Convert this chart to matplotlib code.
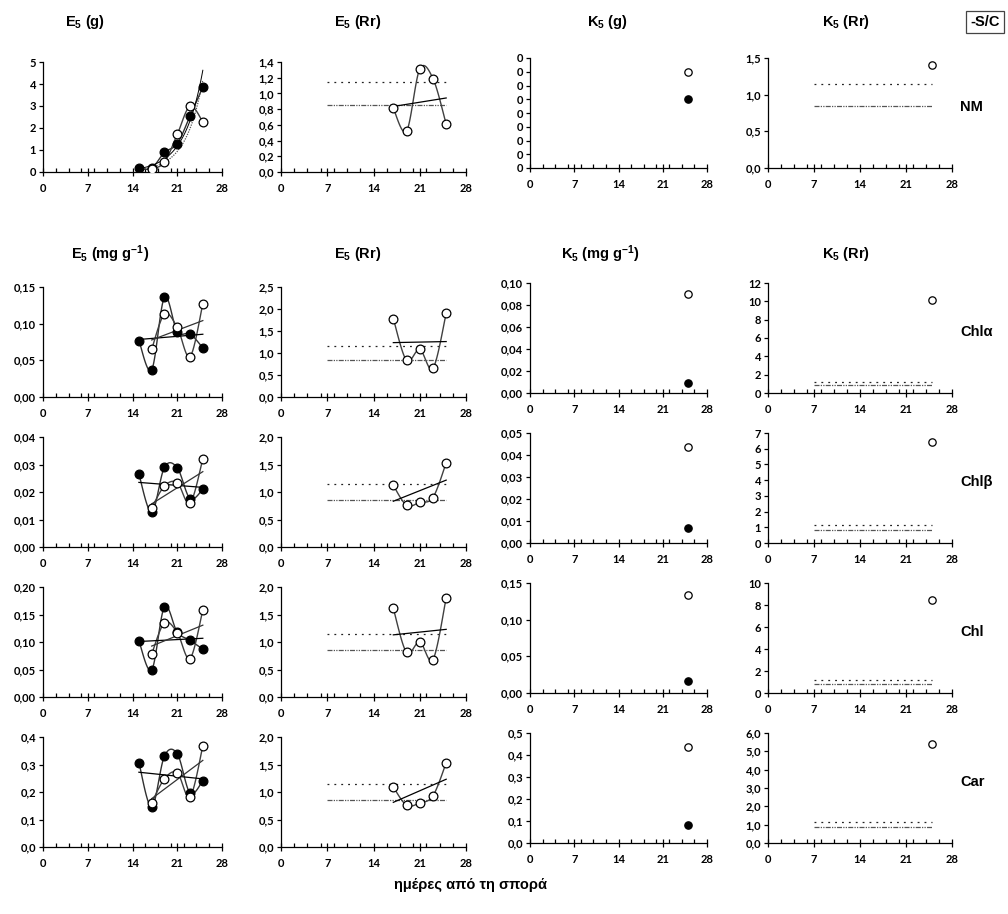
import numpy as np
import matplotlib
matplotlib.use("Agg")
import matplotlib.pyplot as plt
from matplotlib.ticker import MultipleLocator, FuncFormatter

plt.rcParams['font.family'] = ['Liberation Sans', 'DejaVu Sans']
plt.rcParams['font.weight'] = 'bold'
plt.rcParams['mathtext.fontset'] = 'custom'
plt.rcParams['mathtext.rm'] = 'Liberation Sans:bold'
plt.rcParams['mathtext.bf'] = 'Liberation Sans:bold'
plt.rcParams['mathtext.default'] = 'bf'

W, H = 1008, 914

# sampling days
days = [15, 17, 19, 21, 23, 25]
days_rr = [17, 19, 21, 23, 25]
day_k5 = 25
row_names = ["NM", "Chlα", "Chlβ", "Chl", "Car"]

# E5, filled series (days 15..25)
e5_filled_nm = [0.17, 0.18, 0.89, 1.29, 2.54, 3.86]
e5_filled_chla = [0.077, 0.037, 0.136, 0.089, 0.086, 0.067]
e5_filled_chlb = [0.0265, 0.0126, 0.029, 0.0288, 0.0176, 0.021]
e5_filled_chl = [0.102, 0.049, 0.164, 0.118, 0.103, 0.087]
e5_filled_car = [0.307, 0.145, 0.331, 0.339, 0.196, 0.241]

# E5, open series (days 17..25)
e5_open_nm = [0.14, 0.44, 1.71, 2.99, 2.28]
e5_open_chla = [0.065, 0.113, 0.095, 0.055, 0.127]
e5_open_chlb = [0.0142, 0.0222, 0.0234, 0.0159, 0.032]
e5_open_chl = [0.078, 0.135, 0.117, 0.070, 0.158]
e5_open_car = [0.160, 0.248, 0.270, 0.182, 0.367]

# E5 ratio (days 17..25)
e5_rr_nm = [0.81, 0.52, 1.31, 1.19, 0.61]
e5_rr_chla = [1.78, 0.83, 1.08, 0.65, 1.90]
e5_rr_chlb = [1.12, 0.76, 0.81, 0.90, 1.53]
e5_rr_chl = [1.61, 0.81, 1.00, 0.68, 1.80]
e5_rr_car = [1.09, 0.76, 0.80, 0.93, 1.53]

# K5 at day 25
k5_filled = [0.005, 0.009, 0.007, 0.016, 0.080]
k5_open = [0.007, 0.090, 0.0435, 0.134, 0.435]
k5_rr = [1.4, 10.1, 6.4, 8.5, 5.4]

# reference bands for the ratio panels
rr_upper = 1.15
rr_lower = 0.85
rr_band_days = [7, 25]

e5_filled = [e5_filled_nm, e5_filled_chla, e5_filled_chlb, e5_filled_chl, e5_filled_car]
e5_open = [e5_open_nm, e5_open_chla, e5_open_chlb, e5_open_chl, e5_open_car]
e5_rr = [e5_rr_nm, e5_rr_chla, e5_rr_chlb, e5_rr_chl, e5_rr_car]

# axis settings: (ymax, step, decimals)
e5_axis = [(5, 1, 0), (0.15, 0.05, 2), (0.04, 0.01, 2), (0.20, 0.05, 2), (0.4, 0.1, 1)]
rr_axis = [(1.4, 0.2, 1), (2.5, 0.5, 1), (2.0, 0.5, 1), (2.0, 0.5, 1), (2.0, 0.5, 1)]
k5_axis = [(0.008, 0.001, 0), (0.10, 0.02, 2), (0.05, 0.01, 2), (0.15, 0.05, 2), (0.5, 0.1, 1)]
k5rr_axis = [(1.5, 0.5, 1), (12, 2, 0), (7, 1, 0), (10, 2, 0), (6, 1, 1)]

col_left = [43, 281, 530, 768]
col_width = [179, 185, 177, 184]
col_shift = [0, 0, -4, -4]
row_top = [62, 287, 437, 587, 737]
ax_h = 110

fig = plt.figure(figsize=(W / 100, H / 100), dpi=100)


def px_axes(left, top, width, height):
    return fig.add_axes([left / W, 1 - (top + height) / H, width / W, height / H])


def smooth(x, y, n=24):
    """Catmull-Rom curve through the points (like a spreadsheet smoothed line)."""
    pts = np.column_stack([x, y]).astype(float)
    pad = np.vstack([pts[0], pts, pts[-1]])
    t = np.linspace(0, 1, n)[:, None]
    segs = []
    for i in range(1, len(pad) - 2):
        p0, p1, p2, p3 = pad[i - 1:i + 3]
        segs.append(0.5 * (2 * p1 + (-p0 + p2) * t + (2 * p0 - 5 * p1 + 4 * p2 - p3) * t ** 2
                           + (-p0 + 3 * p1 - 3 * p2 + p3) * t ** 3))
    c = np.vstack(segs)
    return c[:, 0], c[:, 1]


def style(ax, ymax, step, dec):
    ax.set_xlim(0, 28)
    ax.set_ylim(0, ymax)
    ax.xaxis.set_major_locator(MultipleLocator(7))
    ax.xaxis.set_minor_locator(MultipleLocator(2))
    ax.yaxis.set_major_locator(MultipleLocator(step))
    ax.yaxis.set_major_formatter(FuncFormatter(lambda v, p: f"{v:.{dec}f}".replace('.', ',')))
    for s in ('top', 'right'):
        ax.spines[s].set_visible(False)
    for s in ('left', 'bottom'):
        ax.spines[s].set_linewidth(0.9)
    ax.tick_params(axis='x', which='major', direction='inout', length=6, width=0.9, pad=5)
    ax.tick_params(axis='x', which='minor', direction='in', length=3, width=0.9)
    ax.tick_params(axis='y', which='major', direction='out', length=3, width=0.9, pad=2)
    ax.tick_params(labelsize=8)
    for lab in ax.get_xticklabels() + ax.get_yticklabels():
        lab.set_fontweight('bold')
        lab.set_fontfamily('Lato')
    ax.patch.set_alpha(0)


def bands(ax):
    ax.plot(rr_band_days, [rr_upper] * 2, color='#222222', lw=0.9, ls=(0, (1.5, 4)))
    ax.plot(rr_band_days, [rr_lower] * 2, color='#555555', lw=0.9, ls=(0, (4, 1, 1, 1, 1, 1)))


def trend(ax, x, y, log=False, **kw):
    x = np.asarray(x, float)
    y = np.asarray(y, float)
    xs = np.linspace(x[0], x[-1], 60)
    if log:
        b, a = np.polyfit(x, np.log(y), 1)
        ax.plot(xs, np.exp(a + b * xs), **kw)
    else:
        b, a = np.polyfit(x, y, 1)
        ax.plot(xs, a + b * xs, **kw)


big = dict(ms=6.3, mew=0.9, ls='none', zorder=5)
small = dict(ms=5.3, mew=0.9, ls='none', zorder=5)

for r in range(5):
    # E5 absolute values
    ax = px_axes(col_left[0], row_top[r] + col_shift[0], col_width[0], ax_h)
    style(ax, *e5_axis[r])
    ax.plot(*smooth(days, e5_filled[r]), color='#303030', lw=1.0)
    ax.plot(*smooth(days_rr, e5_open[r]), color='#404040', lw=1.0)
    if r == 0:
        trend(ax, days, e5_filled[r], log=True, color='black', lw=0.7)
        trend(ax, days_rr, e5_open[r], log=True, color='#555555', lw=0.9, ls=(0, (1, 1)))
    else:
        trend(ax, days, e5_filled[r], color='black', lw=0.9)
        trend(ax, days_rr, e5_open[r], color='#333333', lw=0.9)
    ax.plot(days, e5_filled[r], marker='o', mfc='black', mec='black', **big)
    ax.plot(days_rr, e5_open[r], marker='o', mfc='white', mec='black', **big)

    # E5 ratio
    ax = px_axes(col_left[1], row_top[r] + col_shift[1], col_width[1], ax_h)
    style(ax, *rr_axis[r])
    bands(ax)
    ax.plot(*smooth(days_rr, e5_rr[r]), color='#404040', lw=1.0)
    trend(ax, days_rr, e5_rr[r], color='black', lw=0.9)
    ax.plot(days_rr, e5_rr[r], marker='o', mfc='white', mec='black', **big)

    # K5 absolute values
    ax = px_axes(col_left[2], row_top[r] + col_shift[2], col_width[2], ax_h)
    style(ax, *k5_axis[r])
    ax.plot([day_k5], [k5_open[r]], marker='o', mfc='white', mec='black', **small)
    ax.plot([day_k5], [k5_filled[r]], marker='o', mfc='black', mec='black', **small)

    # K5 ratio
    ax = px_axes(col_left[3], row_top[r] + col_shift[3], col_width[3], ax_h)
    style(ax, *k5rr_axis[r])
    bands(ax)
    ax.plot([day_k5], [k5_rr[r]], marker='o', mfc='white', mec='black', **small)

    fig.text(960 / W, 1 - (row_top[r] + 45) / H, row_names[r], fontsize=10.5,
             fontweight='bold', ha='left', va='center')

# column titles
titles_top = ["E$_5$ (g)", "E$_5$ (Rr)", "K$_5$ (g)", "K$_5$ (Rr)"]
titles_mid = ["E$_5$ (mg g$^{-1}$)", "E$_5$ (Rr)", "K$_5$ (mg g$^{-1}$)", "K$_5$ (Rr)"]
tx_top = [85, 358, 607, 846]
tx_mid = [110, 358, 601, 846]
for t, x in zip(titles_top, tx_top):
    fig.text(x / W, 1 - 22 / H, t, fontsize=10.5, ha='center', va='center', fontweight='bold')
for t, x in zip(titles_mid, tx_mid):
    fig.text(x / W, 1 - 254 / H, t, fontsize=10.5, ha='center', va='center', fontweight='bold')

fig.text(985 / W, 1 - 22 / H, "-S/C", fontsize=10.5, ha='center', va='center', fontweight='bold',
         bbox=dict(boxstyle='square,pad=0.3', fc='white', ec='#444444', lw=0.9))

fig.text(470 / W, 1 - 885 / H, "ημέρες από τη σπορά", fontsize=10.5, ha='center', va='center',
         fontweight='bold')

fig.savefig("out.png", dpi=100, facecolor='white')
